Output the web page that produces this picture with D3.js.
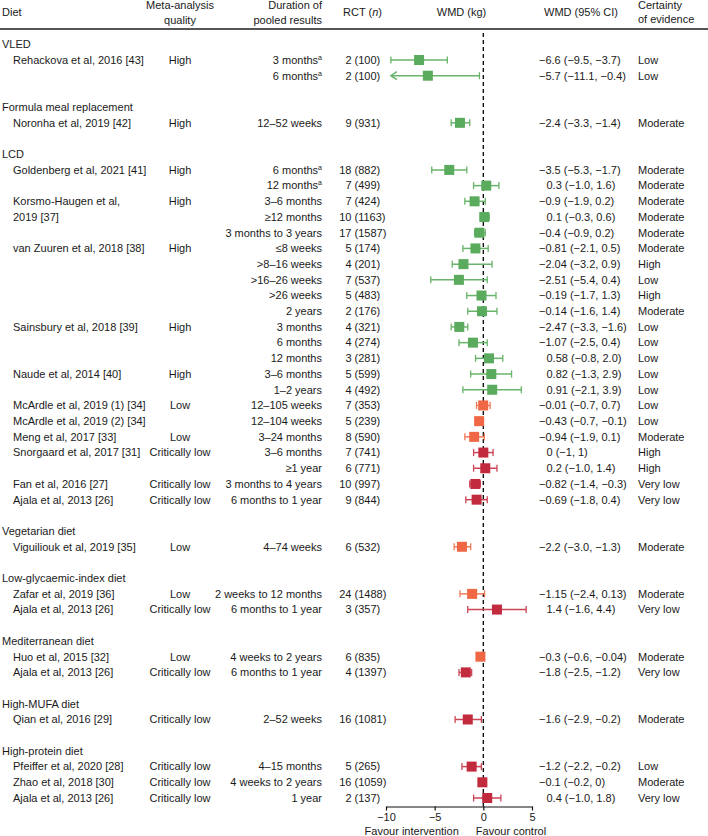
<!DOCTYPE html>
<html>
<head>
<meta charset="utf-8">
<script src="https://cdn.jsdelivr.net/npm/d3@7"></script>
<style>
  html, body { margin: 0; padding: 0; background: #fff; }
  svg { display: block; }
  text { font-family: "Liberation Sans", Arial, Helvetica, sans-serif; font-size: 11px; fill: #1a1a1a; }
</style>
</head>
<body>
<svg id="chart" width="708" height="836"></svg>
<script>
// ---------------- DATA ----------------
const groups = ["VLED", "Formula meal replacement", "LCD", "Vegetarian diet",
  "Low-glycaemic-index diet", "Mediterranean diet", "High-MUFA diet", "High-protein diet"];

const groupOf = [0, 0, 1,
  2, 2, 2, 2, 2, 2, 2, 2, 2, 2, 2, 2, 2, 2, 2, 2, 2, 2, 2, 2, 2, 2,
  3, 4, 4, 5, 5, 6, 7, 7, 7];

const studies = [
  "Rehackova et al, 2016 [43]", "",
  "Noronha et al, 2019 [42]",
  "Goldenberg et al, 2021 [41]", "", "Korsmo-Haugen et al,", "2019 [37]", "",
  "van Zuuren et al, 2018 [38]", "", "", "", "",
  "Sainsbury et al, 2018 [39]", "", "",
  "Naude et al, 2014 [40]", "",
  "McArdle et al, 2019 (1) [34]", "McArdle et al, 2019 (2) [34]",
  "Meng et al, 2017 [33]", "Snorgaard et al, 2017 [31]", "",
  "Fan et al, 2016 [27]", "Ajala et al, 2013 [26]",
  "Viguiliouk et al, 2019 [35]",
  "Zafar et al, 2019 [36]", "Ajala et al, 2013 [26]",
  "Huo et al, 2015 [32]", "Ajala et al, 2013 [26]",
  "Qian et al, 2016 [29]",
  "Pfeiffer et al, 2020 [28]", "Zhao et al, 2018 [30]", "Ajala et al, 2013 [26]"
];

const quality = [
  "High", "",
  "High",
  "High", "", "High", "", "",
  "High", "", "", "", "",
  "High", "", "",
  "High", "",
  "Low", "",
  "Low", "Critically low", "",
  "Critically low", "Critically low",
  "Low",
  "Low", "Critically low",
  "Low", "Critically low",
  "Critically low",
  "Critically low", "Critically low", "Critically low"
];

const durations = [
  "3 months^a", "6 months^a",
  "12–52 weeks",
  "6 months^a", "12 months^a", "3–6 months", "≥12 months", "3 months to 3 years",
  "≤8 weeks", ">8–16 weeks", ">16–26 weeks", ">26 weeks", "2 years",
  "3 months", "6 months", "12 months",
  "3–6 months", "1–2 years",
  "12–105 weeks", "12–104 weeks",
  "3–24 months", "3–6 months", "≥1 year",
  "3 months to 4 years", "6 months to 1 year",
  "4–74 weeks",
  "2 weeks to 12 months", "6 months to 1 year",
  "4 weeks to 2 years", "6 months to 1 year",
  "2–52 weeks",
  "4–15 months", "4 weeks to 2 years", "1 year"
];

const rctCount = [2, 2, 9, 18, 7, 7, 10, 17, 5, 4, 7, 5, 2, 4, 4, 3, 5, 4, 7, 5, 8, 7, 6, 10, 9,
  6, 24, 3, 6, 4, 16, 5, 16, 2];
const rctN = [100, 100, 931, 882, 499, 424, 1163, 1587, 174, 201, 537, 483, 176, 321, 274, 281,
  599, 492, 353, 239, 590, 741, 771, 997, 844, 532, 1488, 357, 835, 1397, 1081, 265, 1059, 137];

const wmd = [-6.6, -5.7, -2.4, -3.5, 0.3, -0.9, 0.1, -0.4, -0.81, -2.04, -2.51, -0.19, -0.14,
  -2.47, -1.07, 0.58, 0.82, 0.91, -0.01, -0.43, -0.94, 0, 0.2, -0.82, -0.69,
  -2.2, -1.15, 1.4, -0.3, -1.8, -1.6, -1.2, -0.1, 0.4];
const ciLow = [-9.5, -11.1, -3.3, -5.3, -1.0, -1.9, -0.3, -0.9, -2.1, -3.2, -5.4, -1.7, -1.6,
  -3.3, -2.5, -0.8, -1.3, -2.1, -0.7, -0.7, -1.9, -1, -1.0, -1.4, -1.8,
  -3.0, -2.4, -1.6, -0.6, -2.5, -2.9, -2.2, -0.2, -1.0];
const ciHigh = [-3.7, -0.4, -1.4, -1.7, 1.6, 0.2, 0.6, 0.2, 0.5, 0.9, 0.4, 1.3, 1.4,
  -1.6, 0.4, 2.0, 2.9, 3.9, 0.7, -0.1, 0.1, 1, 1.4, -0.3, 0.4,
  -1.3, 0.13, 4.4, -0.04, -1.2, -0.2, -0.2, 0, 1.8];

const wmdLabels = [
  "−6.6 (−9.5, −3.7)", "−5.7 (−11.1, −0.4)",
  "−2.4 (−3.3, −1.4)",
  "−3.5 (−5.3, −1.7)", "0.3 (−1.0, 1.6)", "−0.9 (−1.9, 0.2)", "0.1 (−0.3, 0.6)", "−0.4 (−0.9, 0.2)",
  "−0.81 (−2.1, 0.5)", "−2.04 (−3.2, 0.9)", "−2.51 (−5.4, 0.4)", "−0.19 (−1.7, 1.3)", "−0.14 (−1.6, 1.4)",
  "−2.47 (−3.3, −1.6)", "−1.07 (−2.5, 0.4)", "0.58 (−0.8, 2.0)",
  "0.82 (−1.3, 2.9)", "0.91 (−2.1, 3.9)",
  "−0.01 (−0.7, 0.7)", "−0.43 (−0.7, −0.1)",
  "−0.94 (−1.9, 0.1)", "0 (−1, 1)", "0.2 (−1.0, 1.4)",
  "−0.82 (−1.4, −0.3)", "−0.69 (−1.8, 0.4)",
  "−2.2 (−3.0, −1.3)",
  "−1.15 (−2.4, 0.13)", "1.4 (−1.6, 4.4)",
  "−0.3 (−0.6, −0.04)", "−1.8 (−2.5, −1.2)",
  "−1.6 (−2.9, −0.2)",
  "−1.2 (−2.2, −0.2)", "−0.1 (−0.2, 0)", "0.4 (−1.0, 1.8)"
];

const certainty = [
  "Low", "Low", "Moderate",
  "Moderate", "Moderate", "Moderate", "Moderate", "Moderate",
  "Moderate", "High", "Low", "High", "Moderate",
  "Low", "Low", "Low", "Low", "Low",
  "Low", "Low", "Moderate", "High", "High", "Very low", "Very low",
  "Moderate", "Moderate", "Very low", "Moderate", "Very low",
  "Moderate", "Low", "Moderate", "Very low"
];

const xTicks = [-10, -5, 0, 5];

// ---------------- LAYOUT ----------------
const svg = d3.select("#chart");

// build grid rows: header, studies, blank
const rows = [];
let gi = 0;
groups.forEach((g, k) => {
  if (k > 0) gi++; // blank row
  rows.push({ type: "group", gi: gi, label: g });
  gi++;
  groupOf.forEach((go, i) => {
    if (go === k) { rows.push({ type: "study", gi: gi, i: i }); gi++; }
  });
});
const nGrid = gi - 1;

const y = d3.scaleLinear().domain([0, nGrid]).range([44.3, 798]);
const x = d3.scaleLinear().domain([-10, 5]).range([386, 532]);

const colours = { "High": "#5aab5d", "Low": "#ef6744", "Critically low": "#c22a3e" };
const lineColours = { "High": "#68b46a", "Low": "#f07a58", "Critically low": "#cc4556" };

// inherit colour class from previous row when blank
const markQuality = [];
quality.forEach((q, i) => { markQuality.push(q || markQuality[i - 1]); });

// ---------------- HEADER ----------------
const hdr = svg.append("g");
const hText = (tx, ty, s, anchor) => hdr.append("text").attr("x", tx).attr("y", ty)
  .attr("dy", "0.35em").attr("text-anchor", anchor).text(s);
hText(2, 12, "Diet", "start");
hText(180, 5.5, "Meta-analysis", "middle");
hText(180, 20, "quality", "middle");
hText(322, 5.5, "Duration of", "end");
hText(322, 20, "pooled results", "end");
const rct = hText(343, 12, "RCT (", "start");
rct.append("tspan").style("font-style", "italic").text("n");
rct.append("tspan").text(")");
hText(461.5, 12, "WMD (kg)", "middle");
hText(581, 12, "WMD (95% CI)", "middle");
hText(638, 5, "Certainty", "start");
hText(638, 19.5, "of evidence", "start");

hdr.append("line").attr("x1", 0).attr("x2", 708).attr("y1", 29).attr("y2", 29)
  .attr("stroke", "#555").attr("stroke-width", 2);

// ---------------- ZERO LINE ----------------
svg.append("line").attr("x1", x(0)).attr("x2", x(0)).attr("y1", 33).attr("y2", 806.5)
  .attr("stroke", "#111").attr("stroke-width", 1.4).attr("stroke-dasharray", "4,3");

// ---------------- ROWS ----------------
const body = svg.append("g");
rows.forEach(r => {
  const ry = y(r.gi);
  if (r.type === "group") {
    body.append("text").attr("x", 2).attr("y", ry).attr("dy", "0.35em").text(r.label);
    return;
  }
  const i = r.i;
  const t = (tx, s, anchor) => body.append("text").attr("x", tx).attr("y", ry)
    .attr("dy", "0.35em").attr("text-anchor", anchor).text(s);
  if (studies[i]) t(13, studies[i], "start");
  if (quality[i]) t(180, quality[i], "middle");
  // duration with optional superscript
  const parts = durations[i].split("^");
  const dt = t(322, parts[0], "end");
  if (parts[1]) dt.append("tspan").attr("dy", "-4").style("font-size", "7px").text(parts[1]);
  t(351.5, String(rctCount[i]), "end");
  t(354.5, "(" + rctN[i] + ")", "start");
  const lab = wmdLabels[i];
  t(lab.startsWith("−") ? 539 : 546.5, lab, "start");
  t(638, certainty[i], "start");

  // marks
  const q = markQuality[i];
  const col = colours[q], lcol = lineColours[q];
  const clipMin = -9.5;
  const lo = Math.max(ciLow[i], clipMin), hi = ciHigh[i];
  const arrow = ciLow[i] < -10;
  body.append("line").attr("x1", x(lo)).attr("x2", x(hi)).attr("y1", ry).attr("y2", ry)
    .attr("stroke", lcol).attr("stroke-width", 1.5);
  if (arrow) {
    body.append("path")
      .attr("d", `M${x(lo) + 6},${ry - 4}L${x(lo)},${ry}L${x(lo) + 6},${ry + 4}`)
      .attr("fill", "none").attr("stroke", lcol).attr("stroke-width", 1.5);
  } else {
    body.append("line").attr("x1", x(lo)).attr("x2", x(lo)).attr("y1", ry - 3.5).attr("y2", ry + 3.5)
      .attr("stroke", lcol).attr("stroke-width", 1.3);
  }
  body.append("line").attr("x1", x(hi)).attr("x2", x(hi)).attr("y1", ry - 3.5).attr("y2", ry + 3.5)
    .attr("stroke", lcol).attr("stroke-width", 1.3);
  body.append("rect").attr("x", x(wmd[i]) - 5).attr("y", ry - 5).attr("width", 10).attr("height", 10)
    .attr("fill", col);
});

// ---------------- AXIS ----------------
const axis = d3.axisBottom(x).tickValues(xTicks).tickSize(4).tickSizeOuter(0).tickPadding(3)
  .tickFormat(d => d3.format("")(d).replace("-", "−"));
const ag = svg.append("g").attr("transform", "translate(0,806.5)").call(axis);
ag.select(".domain").attr("stroke", "#111").attr("stroke-width", 1.2);
ag.selectAll(".tick line").attr("stroke", "#111").attr("stroke-width", 1.2);
ag.selectAll(".tick text").attr("fill", "#1a1a1a")
  .style("font-family", "'Liberation Sans', Arial, sans-serif").style("font-size", "11px");

svg.append("text").attr("x", 411.7).attr("y", 831.5).attr("dy", "0.35em")
  .attr("text-anchor", "middle").text("Favour intervention");
svg.append("text").attr("x", 511).attr("y", 831.5).attr("dy", "0.35em")
  .attr("text-anchor", "middle").text("Favour control");
</script>
</body>
</html>
